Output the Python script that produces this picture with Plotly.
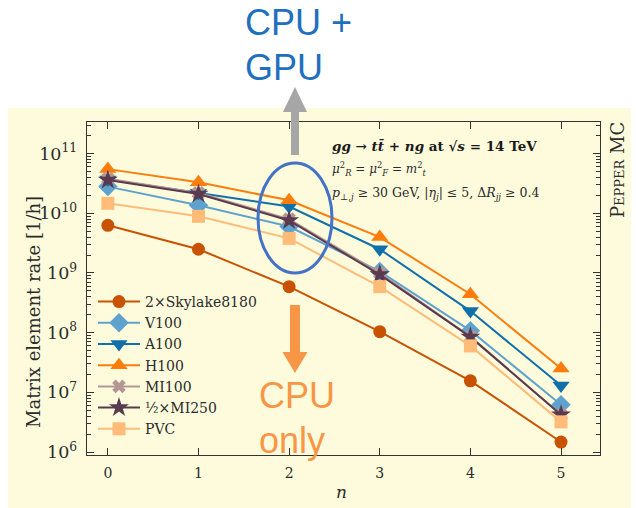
import plotly.graph_objects as go

# Number of additional gluons
n = [0, 1, 2, 3, 4, 5]

# Matrix element rates [1/h]
skylake = [6.3e9, 2.5e9, 5.9e8, 1.04e8, 1.56e7, 1.47e6]
v100 = [2.8e10, 1.36e10, 6.0e9, 1.06e9, 1.08e8, 6.2e6]
a100 = [3.7e10, 2.2e10, 1.3e10, 2.5e9, 2.3e8, 1.3e7]
h100 = [5.5e10, 3.3e10, 1.65e10, 4.0e9, 4.4e8, 2.5e7]
mi100 = [3.8e10, 2.2e10, 8.0e9, 1.0e9, 8.5e7, 4.2e6]
mi250 = [3.6e10, 2.1e10, 7.6e9, 9.4e8, 8.5e7, 4.2e6]
pvc = [1.47e10, 8.9e9, 3.8e9, 5.9e8, 6.0e7, 3.2e6]

series = [
    ("2×Skylake8180", skylake, "#c85200", "circle", 13),
    ("V100", v100, "#5fa2ce", "diamond", 15),
    ("A100", a100, "#1170aa", "triangle-down", 15),
    ("H100", h100, "#fc7d0b", "triangle-up", 15),
    ("MI100", mi100, "#b39793", "x", 12),
    ("½×MI250", mi250, "#5a3a4e", "star", 15),
    ("PVC", pvc, "#ffbc79", "square", 13),
]

W, H = 636, 508
L, R, T, B = 87, 600, 122, 455


def px(x):
    return (x - L) / (R - L)


def py(y):
    return (B - y) / (B - T)


SERIF = "DejaVu Serif"
SANS = "Liberation Sans"
INK = "#2b2b2b"

fig = go.Figure()
for name, vals, color, symbol, size in series:
    fig.add_trace(go.Scatter(
        x=n, y=vals, name=name, mode="lines+markers",
        line=dict(color=color, width=2),
        marker=dict(color=color, symbol=symbol, size=size, line=dict(width=0)),
    ))

axis_common = dict(
    showline=True, linecolor="#333333", linewidth=1.2, mirror="allticks",
    ticks="inside", ticklen=7, tickcolor="#333333", tickwidth=1,
    showgrid=False, zeroline=False,
    tickfont=dict(family=SERIF, size=14, color=INK),
)

fig.update_xaxes(range=[-0.23, 5.43], tickvals=n, ticklabelstandoff=5, **axis_common)
fig.update_yaxes(type="log", range=[5.95, 11.53], dtick=1, exponentformat="power",
                 ticklabelstandoff=6,
                 minor=dict(ticks="inside", ticklen=4, tickcolor="#333333", showgrid=False),
                 **axis_common)

shapes = [
    # light panel behind the chart
    dict(type="rect", xref="paper", yref="paper", layer="below",
         x0=px(8), x1=px(631), y0=py(508), y1=py(108),
         fillcolor="#fefbdd", line=dict(width=0)),
    # highlight around n = 2
    dict(type="circle", xref="paper", yref="paper", layer="above",
         x0=px(258), x1=px(332), y0=py(273), y1=py(163),
         line=dict(color="#4472c4", width=3)),
]


def arrow_path(cx, y_tail, y_base, y_tip, half_shaft, half_head):
    pts = [(cx - half_shaft, y_tail), (cx - half_shaft, y_base), (cx - half_head, y_base),
           (cx, y_tip), (cx + half_head, y_base), (cx + half_shaft, y_base),
           (cx + half_shaft, y_tail)]
    return "M " + " L ".join(f"{px(a):.5f},{py(b):.5f}" for a, b in pts) + " Z"


shapes.append(dict(type="path", xref="paper", yref="paper", layer="above",
                   path=arrow_path(295, 155, 112, 87, 4, 12),
                   fillcolor="#a6a6a6", line=dict(width=0)))
shapes.append(dict(type="path", xref="paper", yref="paper", layer="above",
                   path=arrow_path(295, 305, 352, 373, 5, 12.5),
                   fillcolor="#f79646", line=dict(width=0)))

annotations = []


def note(x, y, text, size, color=INK, family=SERIF, xanchor="left", angle=0):
    annotations.append(dict(
        x=px(x), y=py(y), xref="paper", yref="paper", text=text, showarrow=False,
        xanchor=xanchor, yanchor="middle", textangle=angle,
        font=dict(family=family, size=size, color=color),
    ))


note(243, 23, "CPU +", 36, "#1f6fbf", SANS)
note(243, 67, "GPU", 36, "#1f6fbf", SANS)
note(257, 395, "CPU", 36, "#f79646", SANS)
note(257, 440, "only", 36, "#f79646", SANS)

note(330, 146, "<b><i>gg</i> → <i>t</i><i>t\u0304</i> + <i>ng</i> at √<i>s</i> = 14 TeV</b>", 13.5, "#1a1a1a")
note(330, 169, "<i>μ</i><sup>2</sup><sub><i>R</i></sub> = <i>μ</i><sup>2</sup><sub><i>F</i></sub>"
     " = <i>m</i><sup>2</sup><sub><i>t</i></sub>", 12)
note(330, 193, "<i>p</i><sub>⊥,<i>j</i></sub> ≥ 30 GeV, |<i>η</i><sub><i>j</i></sub>| ≤ 5, "
     "Δ<i>R</i><sub><i>jj</i></sub> ≥ 0.4", 12.5)

note(617, 170, "P<span style='font-size:13px'>EPPER</span> MC", 18, xanchor="center", angle=-90)
note(33, 312, "Matrix element rate [1/h]", 18, xanchor="center", angle=-90)
note(341, 492, "<i>n</i>", 17, xanchor="center")

fig.update_layout(
    width=W, height=H,
    margin=dict(l=L, r=W - R, t=T, b=H - B),
    paper_bgcolor="white", plot_bgcolor="rgba(0,0,0,0)",
    showlegend=True,
    legend=dict(x=px(93), y=py(286), xanchor="left", yanchor="top",
                bgcolor="rgba(0,0,0,0)", borderwidth=0,
                font=dict(family=SERIF, size=14, color=INK),
                itemwidth=42, tracegroupgap=0),
    shapes=shapes, annotations=annotations,
)

fig.write_html("out.html")
